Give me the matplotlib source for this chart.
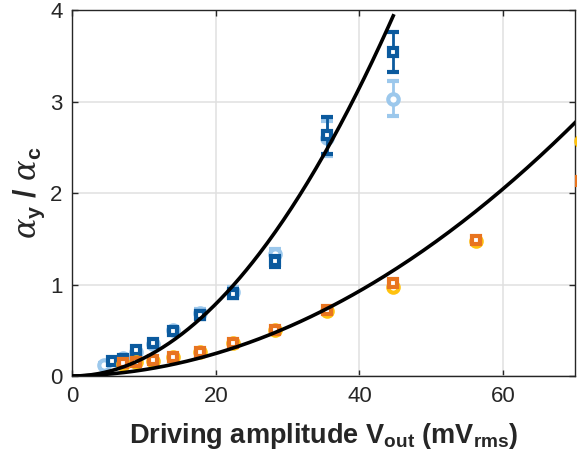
import numpy as np
import matplotlib
matplotlib.use('Agg')
import matplotlib.pyplot as plt

plt.rcParams['font.family'] = ['Liberation Sans', 'DejaVu Sans']
plt.rcParams['mathtext.fontset'] = 'custom'
plt.rcParams['mathtext.rm'] = 'Liberation Sans'
plt.rcParams['mathtext.bf'] = 'Liberation Sans:bold'
plt.rcParams['mathtext.it'] = 'DejaVu Serif:italic'

# driving amplitudes (mV rms)
v_dark = [5.62, 7.08, 8.91, 11.2, 14.1, 17.8, 22.4, 28.2, 35.5, 44.7]
a_dark = [0.16, 0.19, 0.29, 0.36, 0.49, 0.667, 0.90, 1.257, 2.63, 3.54]
e_dark = [0.02, 0.02, 0.02, 0.03, 0.03, 0.04, 0.05, 0.06, 0.20, 0.22]

v_light = [4.47, 7.08, 8.91, 11.2, 14.1, 17.8, 22.4, 28.2, 35.5, 44.7]
a_light = [0.12, 0.20, 0.26, 0.35, 0.50, 0.69, 0.92, 1.33, 2.60, 3.03]
e_light = [0.02, 0.02, 0.02, 0.03, 0.03, 0.04, 0.05, 0.06, 0.19, 0.19]

v_orange = [7.08, 8.91, 11.2, 14.1, 17.8, 22.4, 28.2, 35.5, 44.7, 56.2, 70.8]
a_orange = [0.14, 0.155, 0.175, 0.21, 0.265, 0.36, 0.50, 0.72, 1.02, 1.486, 2.13]

v_yellow = [7.08, 8.91, 11.2, 14.1, 17.8, 22.4, 28.2, 35.5, 44.7, 56.2, 70.8]
a_yellow = [0.13, 0.15, 0.17, 0.21, 0.26, 0.36, 0.50, 0.71, 0.97, 1.48, 2.57]

# quadratic model coefficients (a*V^2 + b*V) and range of each model line
fit_upper = [1.97e-3, 0.0]
fit_upper_vmax = 44.7
fit_lower = [5.44e-4, 1.47e-3]
fit_lower_vmax = 72.0

c_dark = '#0b5a9e'
c_light = '#9cc8ec'
c_orange = '#e8741f'
c_yellow = '#ffc20e'

fig = plt.figure(figsize=(5.77, 4.66), dpi=100)
ax = fig.add_axes([0.125, 0.193, 0.8715, 0.7855])

ax.errorbar(v_light, a_light, yerr=e_light, fmt='o', ms=7.5, mew=3,
            mfc='white', mec=c_light, color=c_light, elinewidth=2,
            capsize=4, capthick=2, zorder=2, clip_on=False)
ax.errorbar(v_dark, a_dark, yerr=e_dark, fmt='s', ms=5.5, mew=3,
            mfc='white', mec=c_dark, color=c_dark, elinewidth=2,
            capsize=4, capthick=2, zorder=3, clip_on=False)
ax.plot(v_yellow, a_yellow, 'o', ms=7.5, mew=3, mfc='white', mec=c_yellow,
        zorder=4, clip_on=False)
ax.plot(v_orange, a_orange, 's', ms=5.5, mew=3, mfc='white', mec=c_orange,
        zorder=5, clip_on=False)

v_up = np.linspace(0, fit_upper_vmax, 200)
ax.plot(v_up, np.polyval(fit_upper + [0.0], v_up), color='black', lw=2.6,
        zorder=6)
v_lo = np.linspace(0, fit_lower_vmax, 200)
ax.plot(v_lo, np.polyval(fit_lower + [0.0], v_lo), color='black', lw=2.6,
        zorder=6)

ax.set_xlim(0, 70)
ax.set_ylim(0, 4)
ax.set_xticks([0, 20, 40, 60])
ax.set_yticks([0, 1, 2, 3, 4])
ax.grid(True, color='#e0e0e0', lw=1.1)
ax.set_axisbelow(True)
ax.tick_params(direction='in', length=4, width=1, labelsize=16,
               top=True, right=True, colors='#262626', pad=7)
for s in ax.spines.values():
    s.set_color('#262626')
    s.set_linewidth(1.0)

ax.set_xlabel(r'Driving amplitude V$_{\mathbf{out}}$ (mV$_{\mathbf{rms}}$)',
              fontsize=19.5, fontweight='bold', color='#262626', labelpad=10)
ax.set_ylabel(r'$\mathit{\alpha}_{\mathbf{y}}$ / $\mathit{\alpha}_{\mathbf{c}}$',
              fontsize=22, fontweight='bold', color='#262626', labelpad=2)

fig.savefig('out.png', dpi=100)
